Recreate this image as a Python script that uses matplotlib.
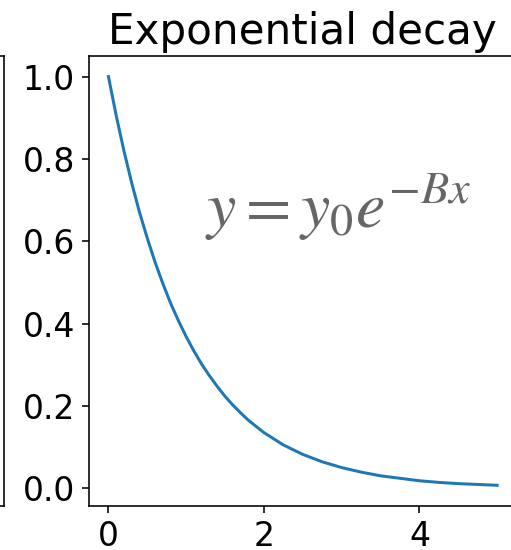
import matplotlib.pyplot as plt
import numpy as np

# values
x_vals = [0.0, 0.1, 0.2, 0.3, 0.4, 0.5, 0.6, 0.7, 0.8, 0.9, 1.0,
          1.1, 1.2, 1.3, 1.4, 1.5, 1.6, 1.7, 1.8, 1.9, 2.0,
          2.25, 2.5, 2.75, 3.0, 3.25, 3.5, 3.75, 4.0, 4.25, 4.5, 4.75, 5.0]
y_vals = [1.0, 0.905, 0.819, 0.741, 0.670, 0.607, 0.549, 0.497, 0.449, 0.407, 0.368,
          0.333, 0.301, 0.273, 0.247, 0.223, 0.202, 0.183, 0.165, 0.150, 0.135,
          0.105, 0.082, 0.064, 0.050, 0.039, 0.030, 0.024, 0.018, 0.014, 0.011,
          0.009, 0.007]
title = "Exponential decay"
formula = r"$y = y_0 e^{-Bx}$"


def main():
    dpi = 144
    fig = plt.figure(figsize=(511 / dpi, 550 / dpi), dpi=dpi)

    # neighbouring panel, only its right edge shows
    ax0 = fig.add_axes([-0.5, 0.0805, 0.5 + 4 / 511, 0.8175])
    ax0.set_xticks([])
    ax0.set_yticks([])

    ax = fig.add_axes([89 / 511, 0.0805, 427.6 / 511, 0.8175])
    ax.plot(x_vals, y_vals)
    ax.set_title(title, fontsize=21)
    ax.tick_params(labelsize=16.5)
    ax.set_yticks([0.0, 0.2, 0.4, 0.6, 0.8, 1.0])
    ax.set_xticks([0, 2, 4])
    ax.text(1.24, 0.635, formula, fontsize=33, color="0.4",
            math_fontfamily="stix")

    fig.savefig("out.png", dpi=dpi)


if __name__ == "__main__":
    main()
